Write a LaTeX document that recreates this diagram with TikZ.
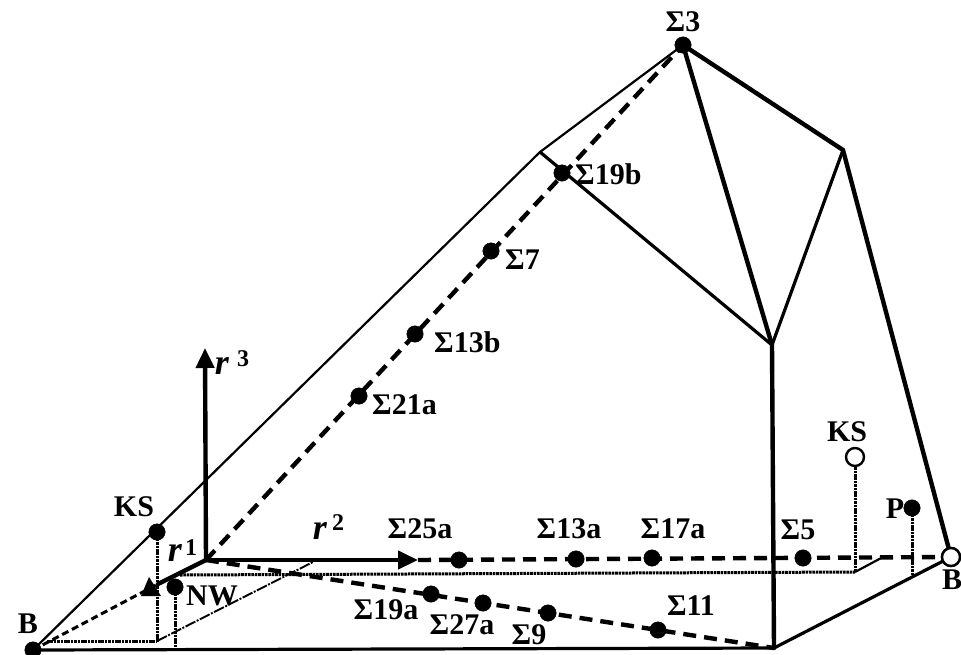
\documentclass[tikz,border=0pt]{standalone}
\usepackage{fontspec}
\setmainfont{Liberation Serif}
\usetikzlibrary{arrows.meta}
\tikzset{
  thickline/.style={line width=4.4pt,black,line cap=round},
  medline/.style={line width=3.2pt,black},
  thinline/.style={line width=2.2pt,black},
  dashline/.style={line width=4.4pt,black,dash pattern=on 13pt off 8pt},
  dashsmall/.style={line width=3pt,black,dash pattern=on 7pt off 4pt},
  dotline/.style={line width=3pt,black,dash pattern=on 2.6pt off 0.8pt},
  dotthin/.style={line width=1.9pt,black,dash pattern=on 11pt off 1.5pt on 2pt off 1.5pt},
  dotb/.style={circle,fill=black,draw=black,inner sep=0pt,minimum size=16.5pt},
  opendot/.style={circle,fill=white,draw=black,line width=2.4pt,inner sep=0pt,minimum size=18pt},
  lab/.style={inner sep=0pt,font=\fontsize{30}{30}\selectfont\bfseries},
  rlab/.style={inner sep=0pt,font=\fontsize{36}{36}\selectfont\bfseries\itshape},
  rsup/.style={inner sep=0pt,font=\fontsize{24}{24}\selectfont\bfseries},
}
\begin{document}
\begin{tikzpicture}[x=1pt,y=-1pt]
\useasboundingbox (0,0) rectangle (961,654);
% corner points
\coordinate (O) at (206,560);
\coordinate (C) at (774,648);
\coordinate (M) at (772,345);
\coordinate (T) at (843,150);
\coordinate (E) at (540,152);
\coordinate (R3) at (205,348);
\coordinate (R2) at (418,560);
\coordinate (R1) at (158,584);
\coordinate (GA) at (180,575);
\coordinate (GB) at (855,572);
\coordinate (GC) at (157,641);
\coordinate (GF) at (47,641);
\coordinate (GD) at (883,557);
\coordinate (GE) at (313,562);
\coordinate (PB) at (912,575);
\coordinate (NB) at (175,651);
% dots
\node[dotb] (BL) at (33,650) {};
\node[opendot] (BR) at (951,557) {};
\node[dotb] (S3) at (683,45) {};
\node[dotb] (S19b) at (562,173) {};
\node[dotb] (S7) at (491,251) {};
\node[dotb] (S13b) at (415,334) {};
\node[dotb] (S21a) at (359,396) {};
\node[dotb] (KSL) at (157,532) {};
\node[dotb] (NW) at (175,587) {};
\node[dotb] (S25a) at (459,560) {};
\node[dotb] (S13a) at (576,559) {};
\node[dotb] (S17a) at (652,558) {};
\node[dotb] (S5) at (803,558) {};
\node[dotb] (P) at (912,508) {};
\node[opendot] (KSR) at (855,457) {};
\node[dotb] (S19a) at (431,594) {};
\node[dotb] (S27a) at (483,603) {};
\node[dotb] (S9) at (548,613) {};
\node[dotb] (S11) at (658,630) {};
% dotted ground lines
\draw[dotline] (GA) -- (GB);
\draw[dotline] (KSR.south) -- (GB);
\draw[dotline] (P.center) -- (PB);
\draw[dotline] (KSL.center) -- (GC);
\draw[dotline] (NW.center) -- (NB);
\draw[dotline] (GF) -- (GC);
\draw[thinline] (GB) -- (GD);
\draw[dotthin] (GC) -- (GE);
\draw[dashsmall] (BL.center) -- (R1);
% frame
\draw[thinline] (BL.center) -- (E) -- (S3.center);
\draw[medline] (E) -- (M);
\draw[medline] (BL.center) -- (C) -- (BR.center);
\draw[thickline] (S3.center) -- (T) -- (BR.center);
\draw[thickline] (S3.center) -- (M) -- (C);
\draw[medline] (T) -- (M);
% dashed lines
\draw[dashline] (O) -- (S3.center);
\draw[dashline] (R2) -- (BR.center);
\draw[dashline] (O) -- (C);
% axes
\draw[thickline,-{Triangle[length=20pt,width=18pt]}] (O) -- (R3);
\draw[thickline,-{Triangle[length=20pt,width=18pt]}] (O) -- (R2);
\draw[thickline] (O) -- (R1);
\node[inner sep=0pt] (TR) at (151,588) {};
\fill (TR) ++(-2,-11) -- ++(-8,19) -- ++(20,0) -- cycle;
% redraw open dot on top
\node[opendot] at (BR) {};
% labels
\node[lab] at (683,22) {Σ3};
\node[lab,anchor=west] at (575,174) {Σ19b};
\node[lab,anchor=west] at (505,260) {Σ7};
\node[lab,anchor=west] at (434,342) {Σ13b};
\node[lab,anchor=west] at (372,405) {Σ21a};
\node[lab] at (420,529) {Σ25a};
\node[lab] at (569,529) {Σ13a};
\node[lab] at (673,529) {Σ17a};
\node[lab] at (798,530) {Σ5};
\node[lab] at (847,432) {KS};
\node[lab] at (895,509) {P};
\node[lab] at (952,580) {B};
\node[lab] at (134,507) {KS};
\node[lab] at (28,624) {B};
\node[lab] at (212,596) {NW};
\node[lab] at (386,610) {Σ19a};
\node[lab] at (462,625) {Σ27a};
\node[lab] at (529,635) {Σ9};
\node[lab] at (691,606) {Σ11};
\node[rlab] at (222,366) {r};
\node[rsup] at (243,359) {3};
\node[rlab] at (175,553) {r};
\node[rsup] at (191,548) {1};
\node[rlab] at (320,531) {r};
\node[rsup] at (338,523) {2};
\end{tikzpicture}
\end{document}
